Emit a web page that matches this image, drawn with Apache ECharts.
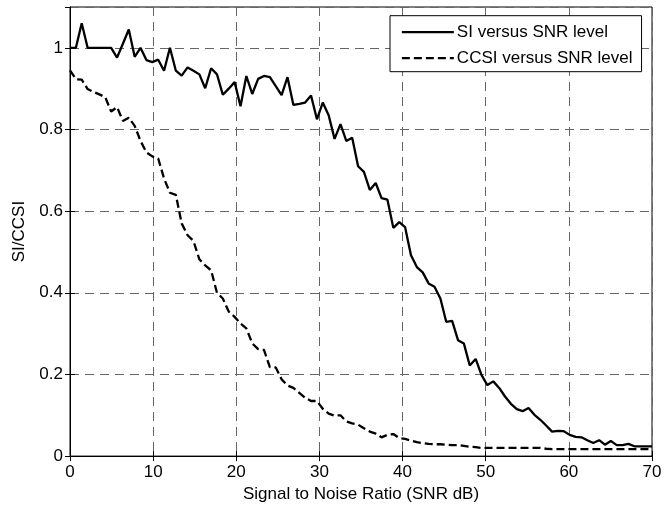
<!DOCTYPE html>
<html>
<head>
<meta charset="utf-8">
<script src="https://cdn.jsdelivr.net/npm/echarts@6/dist/echarts.min.js"></script>
<style>
html,body{margin:0;padding:0;background:#fff;}
#chart{width:671px;height:508px;}
</style>
</head>
<body>
<div id="chart"></div>
<script>
// SNR sample positions (dB)
var snr = [0, 0.71, 1.41, 2.12, 2.83, 3.54, 4.24, 4.95, 5.66, 6.36,
  7.07, 7.78, 8.48, 9.19, 9.90, 10.61, 11.31, 12.02, 12.73, 13.43,
  14.14, 14.85, 15.56, 16.26, 16.97, 17.68, 18.38, 19.09, 19.80, 20.51,
  21.21, 21.92, 22.63, 23.33, 24.04, 24.75, 25.45, 26.16, 26.87, 27.58,
  28.28, 28.99, 29.70, 30.40, 31.11, 31.82, 32.53, 33.23, 33.94, 34.65,
  35.35, 36.06, 36.77, 37.47, 38.18, 38.89, 39.60, 40.30, 41.01, 41.72,
  42.42, 43.13, 43.84, 44.55, 45.25, 45.96, 46.67, 47.37, 48.08, 48.79,
  49.49, 50.20, 50.91, 51.62, 52.32, 53.03, 53.74, 54.44, 55.15, 55.86,
  56.57, 57.27, 57.98, 58.69, 59.39, 60.10, 60.81, 61.52, 62.22, 62.93,
  63.64, 64.34, 65.05, 65.76, 66.46, 67.17, 67.88, 68.59, 69.29, 70.00];

// SI versus SNR level
var si = [1.0, 1.0, 1.06, 1.0, 1.0, 1.0, 1.0, 1.0, 0.976, 1.01,
  1.045, 0.978, 1.0, 0.97, 0.965, 0.971, 0.944, 1.0, 0.944, 0.932,
  0.952, 0.944, 0.935, 0.901, 0.95, 0.935, 0.885, 0.9, 0.916, 0.857,
  0.931, 0.887, 0.924, 0.931, 0.928, 0.906, 0.884, 0.928, 0.86, 0.863,
  0.866, 0.883, 0.825, 0.866, 0.835, 0.777, 0.813, 0.772, 0.78, 0.71,
  0.696, 0.652, 0.669, 0.632, 0.628, 0.559, 0.573, 0.561, 0.492, 0.463,
  0.45, 0.423, 0.415, 0.386, 0.329, 0.331, 0.284, 0.276, 0.222, 0.238,
  0.199, 0.174, 0.183, 0.167, 0.146, 0.128, 0.115, 0.11, 0.118, 0.101,
  0.089, 0.075, 0.06, 0.062, 0.061, 0.052, 0.047, 0.046, 0.039, 0.032,
  0.039, 0.028, 0.037, 0.027, 0.027, 0.03, 0.024, 0.024, 0.024, 0.024];

// CCSI versus SNR level
var ccsi = [0.945, 0.923, 0.922, 0.899, 0.892, 0.886, 0.879, 0.844, 0.855, 0.821,
  0.829, 0.809, 0.772, 0.744, 0.734, 0.729, 0.68, 0.645, 0.64, 0.57,
  0.541, 0.527, 0.482, 0.467, 0.455, 0.4, 0.386, 0.354, 0.341, 0.325,
  0.313, 0.276, 0.262, 0.26, 0.218, 0.217, 0.188, 0.173, 0.167, 0.155,
  0.143, 0.135, 0.135, 0.116, 0.104, 0.099, 0.1, 0.085, 0.08, 0.077,
  0.068, 0.06, 0.055, 0.046, 0.052, 0.054, 0.044, 0.042, 0.038, 0.034,
  0.032, 0.03, 0.029, 0.029, 0.028, 0.027, 0.027, 0.025, 0.023, 0.022,
  0.02, 0.02, 0.02, 0.02, 0.02, 0.02, 0.02, 0.02, 0.02, 0.02,
  0.02, 0.018, 0.017, 0.017, 0.017, 0.017, 0.017, 0.017, 0.017, 0.017,
  0.017, 0.017, 0.017, 0.017, 0.017, 0.017, 0.017, 0.017, 0.017, 0.017];

var seriesNames = ['SI versus SNR level', 'CCSI versus SNR level'];
var xTitle = 'Signal to Noise Ratio (SNR dB)';
var yTitle = 'SI/CCSI';

function pairs(ys) { return snr.map(function (x, i) { return [x, ys[i]]; }); }

var FONT = '"Liberation Sans", Arial, Helvetica, sans-serif';
var gridLine = { show: true, lineStyle: { color: '#666', width: 1, type: [9, 6] } };

var chart = echarts.init(document.getElementById('chart'), null, { renderer: 'canvas' });
chart.setOption({
  backgroundColor: '#fff',
  animation: false,
  textStyle: { fontFamily: FONT, color: '#000' },
  grid: { left: 70, right: 19, top: 7, bottom: 48, show: true, borderColor: '#000', borderWidth: 1, backgroundColor: 'transparent' },
  legend: {
    orient: 'vertical', left: 390, top: 15.7,
    padding: [8, 9, 5, 10.7], itemGap: 9,
    itemWidth: 52, itemHeight: 14,
    backgroundColor: '#fff', borderColor: '#000', borderWidth: 1, borderRadius: 0,
    itemStyle: { opacity: 0 },
    lineStyle: { width: 2.3, color: '#000' },
    textStyle: { fontFamily: FONT, fontSize: 17, color: '#000', padding: [0, 0, 0, -2] },
    data: seriesNames
  },
  xAxis: [{
    type: 'value', min: 0, max: 70, interval: 10,
    name: xTitle, nameLocation: 'middle', nameGap: 27,
    nameTextStyle: { fontFamily: FONT, fontSize: 17, color: '#000' },
    axisLine: { show: true, onZero: false, lineStyle: { color: '#000', width: 1 } },
    axisTick: { show: true, inside: true, length: 5, lineStyle: { color: '#000' } },
    axisLabel: { fontFamily: FONT, fontSize: 17, color: '#000', margin: 8 },
    splitLine: gridLine
  }, {
    type: 'value', min: 0, max: 70, interval: 10, position: 'top',
    axisLine: { show: true, lineStyle: { color: '#000', width: 1 } },
    axisTick: { show: true, inside: true, length: 5, lineStyle: { color: '#000' } },
    axisLabel: { show: false }, splitLine: { show: false }
  }],
  yAxis: [{
    type: 'value', min: 0, max: 1.1, interval: 0.2,
    name: yTitle, nameLocation: 'middle', nameGap: 42,
    nameTextStyle: { fontFamily: FONT, fontSize: 17, color: '#000' },
    axisLine: { show: true, onZero: false, lineStyle: { color: '#000', width: 1 } },
    axisTick: { show: true, inside: true, length: 5, lineStyle: { color: '#000' } },
    axisLabel: { fontFamily: FONT, fontSize: 17, color: '#000', margin: 7, showMaxLabel: false },
    splitLine: gridLine
  }, {
    type: 'value', min: 0, max: 1.1, interval: 0.2, position: 'right',
    axisLine: { show: true, lineStyle: { color: '#000', width: 1 } },
    axisTick: { show: true, inside: true, length: 5, lineStyle: { color: '#000' } },
    axisLabel: { show: false }, splitLine: { show: false }
  }],
  series: [{
    name: seriesNames[0], type: 'line', xAxisIndex: 0, yAxisIndex: 0,
    data: pairs(si), symbol: 'none', showSymbol: false,
    lineStyle: { color: '#000', width: 2.3, type: 'solid' },
    itemStyle: { color: '#000' }
  }, {
    name: seriesNames[1], type: 'line', xAxisIndex: 0, yAxisIndex: 0,
    data: pairs(ccsi), symbol: 'none', showSymbol: false,
    lineStyle: { color: '#000', width: 2.3, type: [8, 4] },
    itemStyle: { color: '#000' }
  }]
});
</script>
</body>
</html>
